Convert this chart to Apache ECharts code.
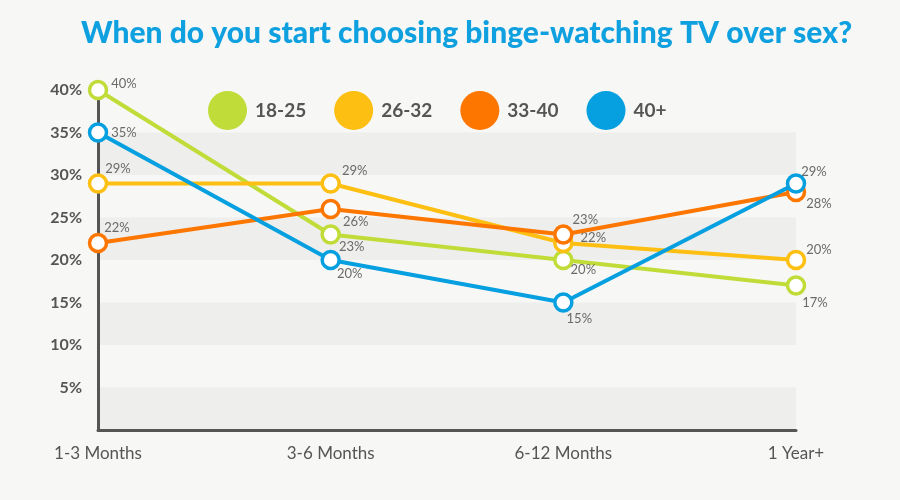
<!DOCTYPE html>
<html><head><meta charset="utf-8">
<script src="https://cdn.jsdelivr.net/npm/echarts@6/dist/echarts.min.js"></script>
<style>html,body{margin:0;padding:0;background:#f7f7f5;}#c{width:900px;height:500px;}</style>
</head><body><div id="c"></div>
<script>
const categories = ['1-3 Months', '3-6 Months', '6-12 Months', '1 Year+'];
const seriesNames = ['18-25', '26-32', '33-40', '40+'];
const values1825 = [40, 23, 20, 17];
const values2632 = [29, 29, 22, 20];
const values3340 = [22, 26, 23, 28];
const values40p = [35, 20, 15, 29];
const yTicks = [0, 5, 10, 15, 20, 25, 30, 35, 40];

const colors = ['#c0dc38', '#fdbf12', '#fd7600', '#06a0e0'];
const labelOffsets = [
  [[26,-6],[21,12],[20,10],[19,17]],
  [[20,-15],[24,-13],[30,-5],[23,-10]],
  [[19,-15],[25,13],[22,-15],[23,12]],
  [[26,0],[19,14],[16,16],[18,-12]]
];
const allValues = [values1825, values2632, values3340, values40p];

const chart = echarts.init(document.getElementById('c'), null, {renderer:'canvas'});
const series = allValues.map((vals, si) => ({
  name: seriesNames[si],
  type: 'line',
  data: vals.map((v, i) => ({
    value: v,
    label: {offset: labelOffsets[si][i]}
  })),
  symbol: 'circle',
  symbolSize: 17,
  lineStyle: {width: 4, color: colors[si]},
  itemStyle: {color: '#ffffff', borderColor: colors[si], borderWidth: 3.5},
  label: {
    show: true, position: 'inside', formatter: '{c}%',
    color: '#6a6a6a', fontSize: 13, fontFamily: 'Lato', align: 'center', verticalAlign: 'middle'
  },
  z: 3 + si
}));

chart.setOption({
  backgroundColor: '#f7f7f5',
  animation: false,
  color: colors,
  title: {
    text: 'When do you start choosing binge-watching TV over sex?',
    left: 76, top: 13,
    textStyle: {color: '#0fa0e0', fontSize: 30, fontWeight: 900, fontFamily: 'Lato'}
  },
  legend: {
    data: seriesNames.map((n, i) => ({name: n, itemStyle: {color: colors[i], borderWidth: 0}})),
    left: 203, top: 86,
    icon: 'circle', itemWidth: 39, itemHeight: 39, itemGap: 28,
    textStyle: {color: '#555', fontSize: 19, fontWeight: 'bold', fontFamily: 'Lato', padding: [0,0,0,3]}
  },
  grid: {left: 98, right: 104, top: 90, bottom: 70},
  xAxis: {
    type: 'category', data: categories, boundaryGap: false,
    axisLine: {lineStyle: {color: '#555', width: 3}},
    axisTick: {show: false},
    axisLabel: {color: '#555', fontSize: 17, fontFamily: 'Lato', margin: 15}
  },
  yAxis: {
    type: 'value', min: yTicks[0], max: yTicks[yTicks.length-1], interval: 5,
    axisLine: {show: true, lineStyle: {color: '#555', width: 3}},
    axisTick: {show: false},
    splitLine: {show: false},
    splitArea: {show: true, areaStyle: {color: ['#eeeeec', 'rgba(0,0,0,0)']}},
    axisLabel: {
      color: '#555', fontSize: 16, fontWeight: 'bold', fontFamily: 'Lato', margin: 16,
      formatter: v => v === 0 ? '' : v + '%'
    }
  },
  series: series
});
</script></body></html>
